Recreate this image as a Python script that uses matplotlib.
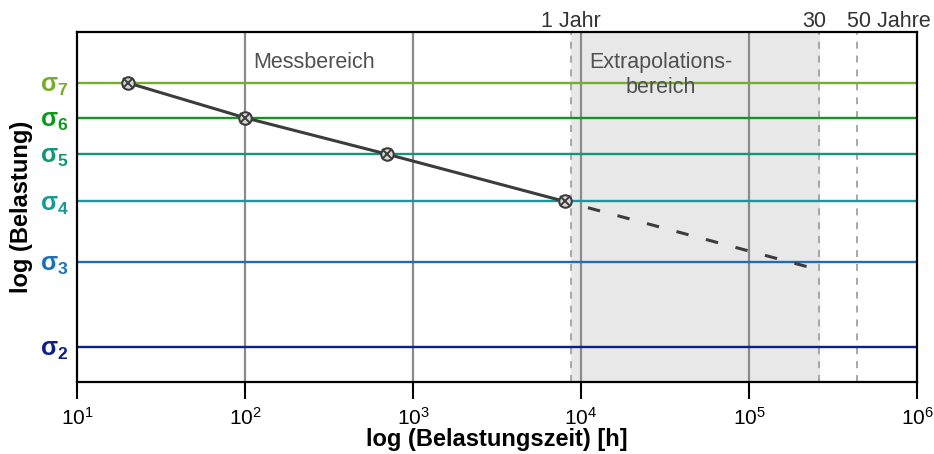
import numpy as np
import matplotlib.pyplot as plt
from matplotlib import font_manager

# Schriften: Liberation Sans (Arial-Metrik), schmal fuer Achsenbeschriftung falls vorhanden
namen = {f.name for f in font_manager.fontManager.ttflist}
schmal = 'Liberation Sans Narrow' if 'Liberation Sans Narrow' in namen else 'Liberation Sans'
plt.rcParams['font.family'] = ['Liberation Sans', 'DejaVu Sans']
plt.rcParams['mathtext.fontset'] = 'custom'
plt.rcParams['mathtext.rm'] = schmal
plt.rcParams['mathtext.bf'] = 'Liberation Sans:bold'
plt.rcParams['lines.scale_dashes'] = False

# Spannungsniveaus (log Belastung, willkuerliche Einheiten)
sigma_namen = ['σ2', 'σ3', 'σ4', 'σ5', 'σ6', 'σ7']
sigma_werte = [1.0, 3.43, 5.16, 6.51, 7.55, 8.55]
sigma_farben = ['#0c1f8f', '#1a70b8', '#17999b', '#13957a', '#0b9a1c', '#76ae28']

# Messpunkte (Belastungszeit in h, Belastung)
mess_zeit = [20, 100, 700, 8000]
mess_last = [8.55, 7.55, 6.51, 5.16]

# Extrapolation bis 30 Jahre
extra_zeit = [11000, 262800]
extra_last = [4.98, 3.20]

# Zeitmarken
jahr_1 = 8760
jahr_30 = 262800
jahr_50 = 438000
gitter_x = [1e2, 1e3, 1e4, 1e5]

fig = plt.figure(figsize=(9.34, 4.54), dpi=100)
ax = fig.add_axes([0.0824, 0.1586, 0.8994, 0.7709])
ax.set_xscale('log')
ax.set_xlim(10, 1e6)
ax.set_ylim(0, 10)

# Extrapolationsbereich
ax.axvspan(jahr_1, jahr_30, color='#e8e8e8', zorder=0)
for x in gitter_x:
    ax.axvline(x, color='#8a8a8a', lw=1.6, zorder=1)
for x in [jahr_1, jahr_30, jahr_50]:
    ax.axvline(x, color='#9a9a9a', lw=1.2, ls=(0, (5, 5)), zorder=1)

# Spannungslinien
for w, c in zip(sigma_werte, sigma_farben):
    ax.axhline(w, color=c, lw=1.7, zorder=2)

# Zeitstandlinie
ax.plot(mess_zeit, mess_last, color='#3c3c3c', lw=2.2, zorder=3)
ax.plot(extra_zeit, extra_last, color='#3c3c3c', lw=2.2, dashes=(9, 13), zorder=3)
ax.plot(mess_zeit, mess_last, ls='none', marker='o', ms=9, mfc='#d8d8d8',
        mec='#3c3c3c', mew=1.5, zorder=4)
ax.plot(mess_zeit, mess_last, ls='none', marker='x', ms=7, mec='#3c3c3c',
        mew=1.4, zorder=5)

# Bereichsbeschriftungen
ax.text(258, 9.14, 'Messbereich', fontsize=15.5, color='#505050',
        ha='center', va='center')
ax.text(29900, 8.77, 'Extrapolations-\nbereich', fontsize=15.5, color='#505050',
        ha='center', va='center', linespacing=1.2)

trans = ax.get_xaxis_transform()
ax.text(jahr_1, 1.013, '1 Jahr', transform=trans, fontsize=15.5, color='#333333',
        ha='center', va='baseline', clip_on=False)
ax.text(245000, 1.013, '30', transform=trans, fontsize=15.5, color='#333333',
        ha='center', va='baseline', clip_on=False)
ax.text(383000, 1.013, '50 Jahre', transform=trans, fontsize=15.5, color='#333333',
        ha='left', va='baseline', clip_on=False)

# Achsen
ax.set_yticks(sigma_werte)
ax.set_yticklabels([r'$\mathbf{σ_{%s}}$' % n[1:] for n in sigma_namen], fontsize=18)
for lab, c in zip(ax.get_yticklabels(), sigma_farben):
    lab.set_color(c)
ax.tick_params(axis='y', length=0, pad=6)
ax.tick_params(axis='x', which='major', length=12, width=1.5, direction='out',
               labelsize=15, pad=6)
ax.tick_params(axis='x', which='minor', length=0)
ax.set_xticks([1e1, 1e2, 1e3, 1e4, 1e5, 1e6])

for s in ax.spines.values():
    s.set_linewidth(1.6)
    s.set_color('black')

ax.set_xlabel('log (Belastungszeit) [h]', fontsize=17, fontweight='bold', labelpad=-1)
ax.set_ylabel('log (Belastung)', fontsize=17, fontweight='bold')
ax.yaxis.set_label_coords(-0.052, 0.5)

fig.savefig('out.png', dpi=100)
